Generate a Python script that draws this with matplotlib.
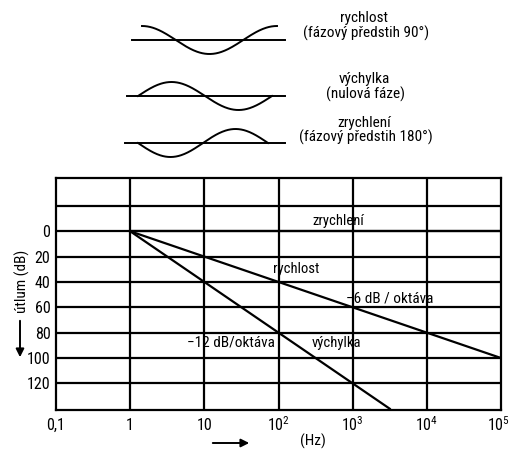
import numpy as np
import matplotlib
matplotlib.use("Agg")
import matplotlib.pyplot as plt
from matplotlib import font_manager

# ---------------- data ----------------
freq_ticks = [0.1, 1, 10, 100, 1000, 10000, 100000]
freq_labels = ["0,1", "1", "10", "$10^2$", "$10^3$", "$10^4$", "$10^5$"]
db_ticks = [0, 20, 40, 60, 80, 100, 120]
db_grid = [-20, 0, 20, 40, 60, 80, 100, 120]

rychlost_f = [1, 100000]
rychlost_db = [0, 100]
vychylka_f = [1, 10, 100, 1000, 3162]
vychylka_db = [0, 40, 80, 120, 140]
zrychleni_f = [1, 100000]
zrychleni_db = [0, 0]

names = ["rychlost", "výchylka", "zrychlení"]
phases = ["(fázový předstih 90°)", "(nulová fáze)", "(fázový předstih 180°)"]

# ---------------- fonts: prefer a narrow face ----------------
chosen = None
stretch = "normal"
prefs = ["Liberation Sans Narrow", "Roboto Condensed", "Open Sans Condensed",
         "DejaVu Sans Condensed", "Noto Sans Condensed"]
entries = font_manager.fontManager.ttflist
names_avail = {f.name for f in entries}
for p in prefs:
    if p in names_avail:
        chosen = p
        break
if chosen is None:
    for f in entries:
        if f.stretch in ("condensed", "semi-condensed", "extra-condensed") and f.style == "normal" \
                and f.weight in (400, "normal", "regular"):
            chosen = f.name
            stretch = f.stretch
            break
fam = [chosen, "DejaVu Sans"] if chosen else ["DejaVu Sans"]
plt.rcParams["font.family"] = fam
plt.rcParams["font.stretch"] = stretch
plt.rcParams["mathtext.fontset"] = "custom"
plt.rcParams["mathtext.rm"] = fam[0]
plt.rcParams["mathtext.it"] = fam[0]
narrow = chosen is not None
FS = 11 if narrow else 9.5

W, H = 512, 450
fig = plt.figure(figsize=(W / 100, H / 100), dpi=100)

# ---------------- main chart ----------------
x0, x1, y0, y1 = 56, 501, 178, 410
ax = fig.add_axes([x0 / W, 1 - y1 / H, (x1 - x0) / W, (y1 - y0) / H])
ax.set_xscale("log")
ax.set_xlim(0.1, 1e5)
ax.set_ylim(141, -42)
lw = 1.6
for s in ax.spines.values():
    s.set_linewidth(lw)
for f in freq_ticks[1:-1]:
    ax.axvline(f, color="black", lw=lw)
for d in db_grid:
    ax.axhline(d, color="black", lw=lw)
ax.set_xticks([])
ax.xaxis.set_minor_locator(matplotlib.ticker.NullLocator())
ax.set_yticks(db_ticks)
ax.set_yticklabels([str(v) for v in db_ticks], fontsize=FS + 0.5)
ax.tick_params(length=0, pad=4)

xt = ax.get_xaxis_transform()
for i, (f, lab) in enumerate(zip(freq_ticks, freq_labels)):
    xf = f if i < len(freq_ticks) - 1 else f * 0.93
    ax.text(xf, -0.065, lab, transform=xt, ha="center", va="center", fontsize=FS + 0.5)

ax.plot(rychlost_f, rychlost_db, color="black", lw=lw)
ax.plot(vychylka_f, vychylka_db, color="black", lw=lw)
ax.plot(zrychleni_f, zrychleni_db, color="black", lw=lw)

ax.text(630, -8, "zrychlení", ha="center", va="center", fontsize=FS - 0.5)
ax.text(175, 30, "rychlost", ha="center", va="center", fontsize=FS - 0.5)
ax.text(3160, 53, "−6 dB / oktáva", ha="center", va="center", fontsize=FS)
ax.text(23, 88, "−12 dB/oktáva", ha="center", va="center", fontsize=FS)
ax.text(600, 88, "výchylka", ha="center", va="center", fontsize=FS - 0.5)

# ---------------- overlay (pixel coords) ----------------
ov = fig.add_axes([0, 0, 1, 1], facecolor="none")
ov.set_xlim(0, W)
ov.set_ylim(H, 0)
ov.axis("off")

ov.text(22, 281, "útlum (dB)", rotation=90, ha="center", va="center", fontsize=FS)
ov.annotate("", xy=(20, 360), xytext=(20, 318),
            arrowprops=dict(arrowstyle="-|>", color="black", lw=1.4, mutation_scale=12))
ov.annotate("", xy=(252, 443), xytext=(210, 443),
            arrowprops=dict(arrowstyle="-|>", color="black", lw=1.4, mutation_scale=12))
ov.text(313, 441, "(Hz)", ha="center", va="center", fontsize=FS)

# wave sketches
t = np.linspace(0, 2 * np.pi, 200)
waves = [
    (132, 285, 40, 142, 277, np.cos(t)),
    (127, 285, 96, 138, 272, np.sin(t)),
    (125, 285, 143, 138, 268, -np.sin(t)),
]
for (ax0, ax1, yc, sx0, sx1, shape) in waves:
    ov.plot([ax0, ax1], [yc, yc], color="black", lw=1.4)
    xs = sx0 + (sx1 - sx0) * t / (2 * np.pi)
    ov.plot(xs, yc - 14 * shape, color="black", lw=1.4)

label_y = [(18, 33), (79, 94), (123, 137)]
for name, ph, (ya, yb) in zip(names, phases, label_y):
    ov.text(364, ya, name, ha="center", va="center", fontsize=FS)
    ov.text(366, yb, ph, ha="center", va="center", fontsize=FS)

fig.savefig("out.png", dpi=100)
